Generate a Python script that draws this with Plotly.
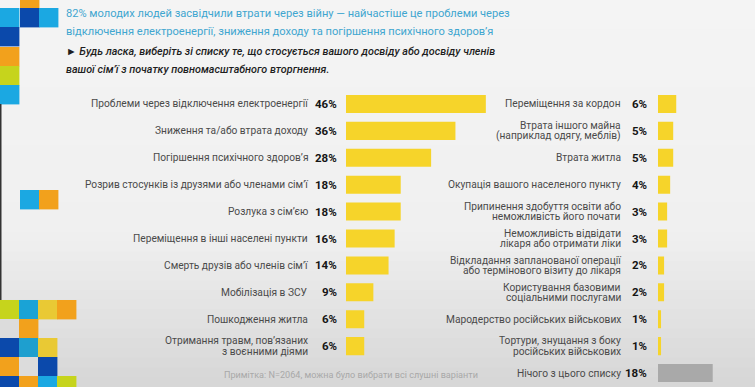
import plotly.graph_objects as go

# ---------------- data ----------------
left_labels = [
    "Проблеми через відключення електроенергії",
    "Зниження та/або втрата доходу",
    "Погіршення психічного здоров’я",
    "Розрив стосунків із друзями або членами сім’ї",
    "Розлука з сім’єю",
    "Переміщення в інші населені пункти",
    "Смерть друзів або членів сім’ї",
    "Мобілізація в ЗСУ",
    "Пошкодження житла",
    "Отримання травм, пов’язаних<br>з воєнними діями",
]
left_values = [46, 36, 28, 18, 18, 16, 14, 9, 6, 6]

right_labels = [
    "Переміщення за кордон",
    "Втрата іншого майна<br>(наприклад одягу, меблів)",
    "Втрата житла",
    "Окупація вашого населеного пункту",
    "Припинення здобуття освіти або<br>неможливість його почати",
    "Неможливість відвідати<br>лікаря або отримати ліки",
    "Відкладання запланованої операції<br>або термінового візиту до лікаря",
    "Користування базовими<br>соціальними послугами",
    "Мародерство російських військових",
    "Тортури, знущання з боку<br>російських військових",
    "Нічого з цього списку",
]
right_values = [6, 5, 5, 4, 3, 3, 2, 2, 1, 1, 18]

title_lines = [
    "82% молодих людей засвідчили втрати через війну — найчастіше це проблеми через",
    "відключення електроенергії, зниження доходу та погіршення психічного здоров’я",
]
subtitle_lines = [
    "► Будь ласка, виберіть зі списку те, що стосується вашого досвіду або досвіду членів",
    "вашої сім’ї з початку повномасштабного вторгнення.",
]
note_text = "Примітка: N=2064, можна було вибрати всі слушні варіанти"

# ---------------- styling ----------------
W, H = 755, 387
FONT = "Roboto"
YELLOW = "#f6d42a"
GRAY_BAR = "#a9a9a9"

def px_x(p):
    return p / W

def px_y(p):
    return 1 - p / H

fig = go.Figure()

left_colors = [YELLOW] * len(left_values)
right_colors = [YELLOW] * (len(right_values) - 1) + [GRAY_BAR]

fig.add_trace(go.Bar(
    x=left_values, y=list(range(len(left_values))), orientation="h",
    marker=dict(color=left_colors, line=dict(width=0)),
    xaxis="x", yaxis="y", width=0.67, hoverinfo="skip", showlegend=False,
))
fig.add_trace(go.Bar(
    x=right_values, y=list(range(len(right_values))), orientation="h",
    marker=dict(color=right_colors, line=dict(width=0)),
    xaxis="x2", yaxis="y2", width=0.67, hoverinfo="skip", showlegend=False,
))

annotations = []
LINE_GAP = 10.5

def add_labels(labels, values, xref, yref, pct_shift, lab_shift):
    for i, (lab, v) in enumerate(zip(labels, values)):
        annotations.append(dict(
            x=0, y=i, xref=xref, yref=yref, xanchor="right", yanchor="middle",
            xshift=pct_shift, text=f"<b>{v}%</b>", showarrow=False,
            font=dict(family=FONT, size=11.5, color="#151515"),
        ))
        parts = lab.split("<br>")
        n = len(parts)
        for j, part in enumerate(parts):
            ys = (n - 1) * LINE_GAP / 2 - j * LINE_GAP
            annotations.append(dict(
                x=0, y=i, xref=xref, yref=yref, xanchor="right", yanchor="middle",
                xshift=lab_shift, yshift=ys, text=part, showarrow=False,
                font=dict(family=FONT, size=10.2, color="#4a4a4a"),
            ))

add_labels(left_labels, left_values, "x", "y", -7, -36)
add_labels(right_labels, right_values, "x2", "y2", -9, -35)

# title and subtitle
for k, line in enumerate(title_lines):
    annotations.append(dict(
        x=px_x(64), y=px_y(13 + 18.5 * k), xref="paper", yref="paper",
        xanchor="left", yanchor="middle", text=line, showarrow=False,
        font=dict(family=FONT, size=11.1, color="#3fa6d0"),
    ))
for k, line in enumerate(subtitle_lines):
    annotations.append(dict(
        x=px_x(64), y=px_y(52 + 17 * k), xref="paper", yref="paper",
        xanchor="left", yanchor="middle", text=f"<i>{line}</i>", showarrow=False,
        font=dict(family=FONT, size=10.8, color="#1e1e1e", weight=500),
    ))
annotations.append(dict(
    x=px_x(222), y=px_y(375), xref="paper", yref="paper",
    xanchor="left", yanchor="middle", text=note_text, showarrow=False,
    font=dict(family=FONT, size=9.1, color="#a8a8a8"),
))

# ---------------- background gradient + decoration ----------------
shapes = []
def lerp(a, b, t):
    return int(round(a + (b - a) * t))
bands = 40
for b in range(bands):
    y0 = H * b / bands
    y1 = H * (b + 1) / bands
    t = (y0 + y1) / 2 / H
    if t < 0.6:
        c = lerp(244, 240, t / 0.6)
    else:
        c = lerp(240, 214, (t - 0.6) / 0.4)
    shapes.append(dict(
        type="rect", xref="paper", yref="paper", layer="below",
        x0=0, x1=1, y0=px_y(y1) - 0.001, y1=px_y(y0) + 0.001,
        fillcolor=f"rgb({c},{c},{c})", line=dict(width=0),
    ))

LB, DB, OR, LI, YE, LG = "#1ba8e2", "#0b49ab", "#f2a11c", "#c6d41c", "#e9c934", "#dcdcdc"
S = 19.4
squares = [
    (20, -11, OR),
    (0, 8, LB), (20, 8, DB), (39, 8, LB),
    (0, 27, DB), (0, 47, OR), (0, 66, LI), (0, 85, LB),
    (20, 190, LB), (39, 190, OR),
    (0, 300, LI), (19, 300, "#1aa3d6"), (38, 300, YE), (57, 300, OR),
    (0, 319, LG), (19, 319, OR),
    (0, 338, DB), (19, 338, "#1e9fcf"), (38, 338, YE),
    (0, 357, OR), (19, 357, LG), (38, 357, DB),
    (0, 376, DB), (19, 376, OR), (38, 376, LB), (57, 376, LI),
]
for (x0, y0, col) in squares:
    shapes.append(dict(
        type="rect", xref="paper", yref="paper", layer="below",
        x0=px_x(x0), x1=px_x(x0 + S), y0=px_y(y0 + S), y1=px_y(y0),
        fillcolor=col, line=dict(width=0),
    ))
shapes.append(dict(
    type="rect", xref="paper", yref="paper", layer="below",
    x0=0, x1=px_x(1.5), y0=px_y(300), y1=px_y(104),
    fillcolor="#333333", line=dict(width=0),
))

# ---------------- axes ----------------
ydom = [px_y(386.5), px_y(90.5)]
fig.update_layout(
    width=W, height=H,
    margin=dict(l=0, r=0, t=0, b=0),
    paper_bgcolor="#f2f2f2",
    plot_bgcolor="rgba(0,0,0,0)",
    bargap=0.33,
    xaxis=dict(domain=[px_x(346), px_x(346 + 3.04 * 50)], range=[0, 50],
               visible=False, fixedrange=True),
    yaxis=dict(domain=ydom, range=[10.5, -0.5], visible=False, fixedrange=True),
    xaxis2=dict(domain=[px_x(658), px_x(658 + 3.04 * 30)], range=[0, 30],
                visible=False, fixedrange=True, anchor="y2"),
    yaxis2=dict(domain=ydom, range=[10.5, -0.5], visible=False, fixedrange=True,
                anchor="x2"),
    annotations=annotations,
    shapes=shapes,
    showlegend=False,
)

fig.write_html("out.html")
